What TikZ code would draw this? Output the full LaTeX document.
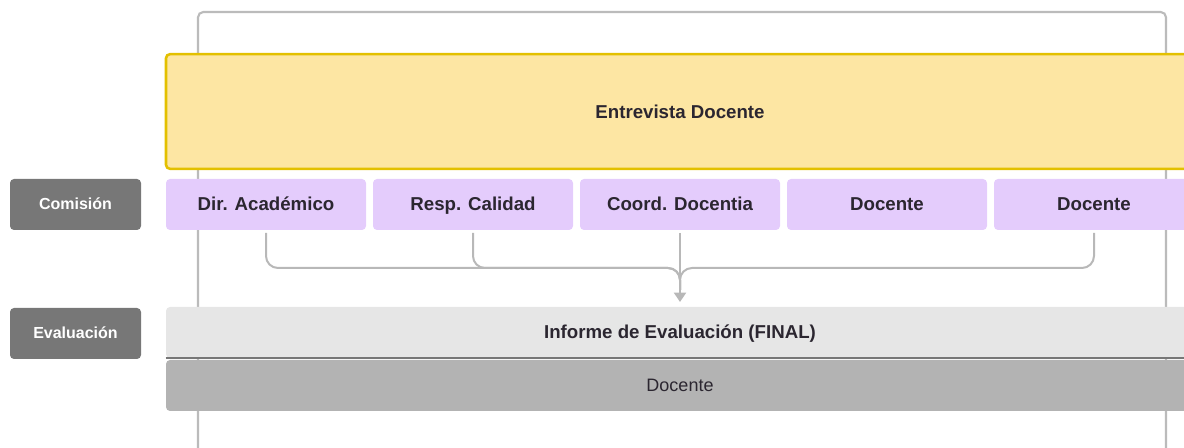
\documentclass[tikz,border=0pt]{standalone}
\usepackage{fontspec}
\setmainfont{Liberation Sans}
\usetikzlibrary{arrows.meta}

\definecolor{ink}{HTML}{2B2630}
\definecolor{frameGray}{HTML}{BBBBBB}
\definecolor{lineGray}{HTML}{B8B8B8}
\definecolor{tagGray}{HTML}{777777}
\definecolor{sand}{HTML}{FDE6A3}
\definecolor{gold}{HTML}{E3C000}
\definecolor{lilac}{HTML}{E4CCFC}
\definecolor{reportGray}{HTML}{E6E6E6}
\definecolor{ownerGray}{HTML}{B3B3B3}

\begin{document}
\begin{tikzpicture}[x=0.75pt,y=-0.75pt,
  member/.style={rectangle, rounded corners=3pt, fill=lilac, text=ink, inner sep=0pt,
    text height=11pt, text depth=2pt,
    minimum width=150pt, minimum height=38.25pt, font=\bfseries\fontsize{14}{16}\selectfont},
  tag/.style={rectangle, rounded corners=3pt, fill=tagGray, text=white, inner sep=0pt,
    text height=9.5pt, text depth=1.5pt,
    minimum width=98.25pt, minimum height=38.25pt, font=\bfseries\fontsize{12}{14}\selectfont},
  band/.style={rectangle, inner sep=0pt, minimum width=771pt, minimum height=38.25pt, text=ink,
    text height=11pt, text depth=2pt},
  link/.style={draw=lineGray, line width=1.5pt, rounded corners=9pt}]
\useasboundingbox (0,0) rectangle (1184,448);
\clip (0,0) rectangle (1184,448);

% outer frame
\draw[frameGray, line width=1.6pt, rounded corners=4pt] (198,12) rectangle (1166,490);

% interview
\node[rectangle, rounded corners=3pt, fill=sand, draw=gold, line width=1.9pt, inner sep=0pt,
  minimum width=771pt, minimum height=86pt, text=ink, font=\bfseries\fontsize{14}{16}\selectfont]
  (interview) at (680,111.5) {Entrevista Docente};

% commission row
\node[tag] (comision) at (75.5,204.5) {Comisión};
\node[member] (dir) at (266,204.5) {Dir. Académico};
\node[member] (resp) at (473,204.5) {Resp. Calidad};
\node[member] (coord) at (680,204.5) {Coord. Docentia};
\node[member] (doc1) at (887,204.5) {Docente};
\node[member] (doc2) at (1094,204.5) {Docente};

% evaluation row
\node[tag] (evaluacion) at (75.5,333.5) {Evaluación};
\node[band, fill=reportGray, rounded corners=3pt, font=\bfseries\fontsize{14}{16}\selectfont]
  (report) at (680,332.5) {Informe de Evaluación (FINAL)};
\node[band, fill=ownerGray, rounded corners=3pt, font=\fontsize{13.5}{16}\selectfont]
  (owner) at (680,385.5) {Docente};
\draw[tagGray, line width=1.5pt] (report.south west) -- (report.south east);

% links
\coordinate (join) at (680,290);
\coordinate (tip) at (680,302);
\draw[link, shorten <=2pt] (dir.south) |- (680,268) -- (join);
\draw[link, shorten <=2pt] (resp.south) |- (680,268) -- (join);
\draw[link, shorten <=2pt] (doc2.south) |- (680,268) -- (join);
\draw[link, shorten <=2pt, -{Triangle[width=9pt,length=7pt]}, lineGray] (coord.south) -- (tip);
\end{tikzpicture}
\end{document}
